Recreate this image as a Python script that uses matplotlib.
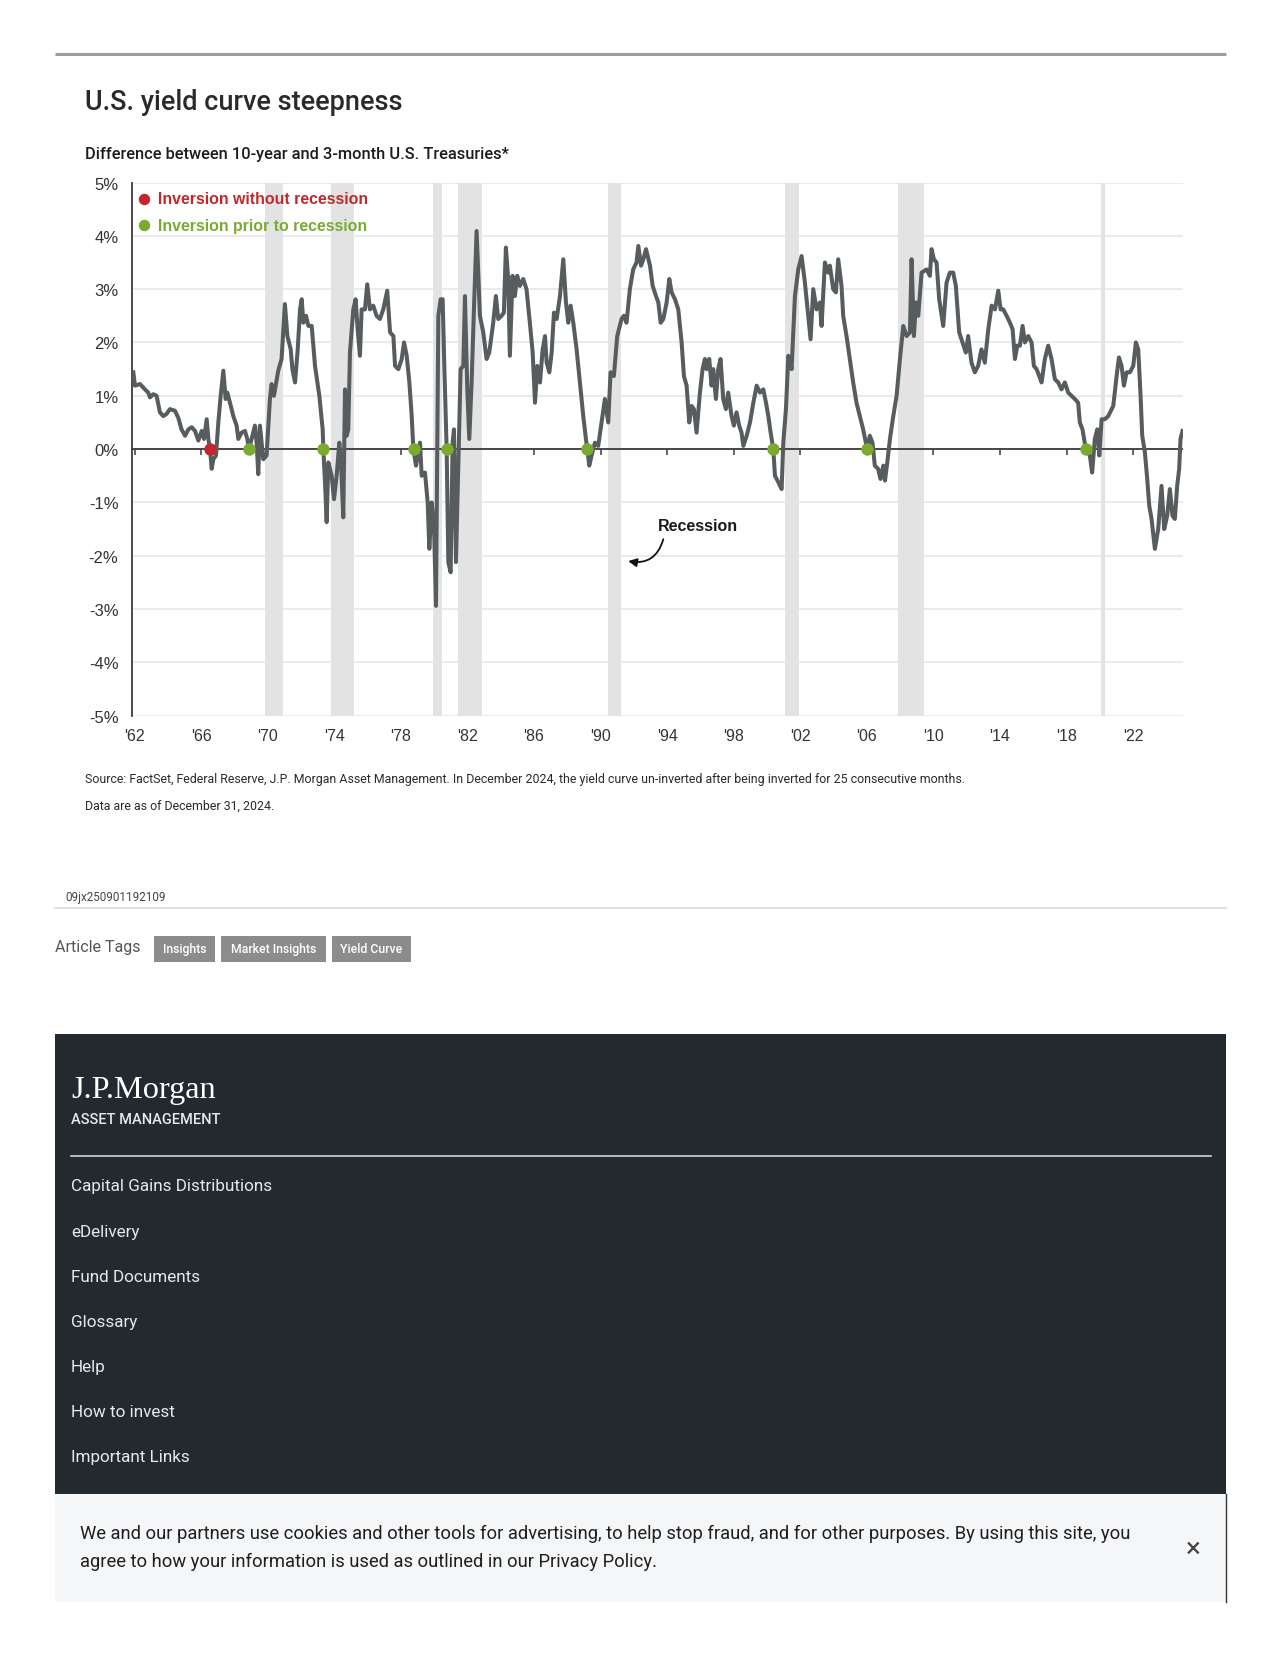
import matplotlib
matplotlib.use('Agg')
import matplotlib.pyplot as plt
from matplotlib.patches import Rectangle

plt.rcParams['font.family'] = ['Liberation Sans', 'DejaVu Sans']

# 10y - 3m spread (decimal year, percent)
spread_dates = [
    1961.92, 1962.02, 1962.32, 1962.62, 1962.82, 1962.92, 1963.12, 1963.32, 1963.52, 1963.72,
    1963.92, 1964.12, 1964.42, 1964.62, 1964.82, 1965.03, 1965.23, 1965.43, 1965.63, 1965.83,
    1966.03, 1966.17, 1966.33, 1966.43, 1966.53, 1966.63, 1966.73, 1966.89, 1967.03, 1967.17,
    1967.33, 1967.47, 1967.57, 1967.73, 1967.93, 1968.13, 1968.23, 1968.43, 1968.63, 1968.77,
    1968.87, 1969.03, 1969.23, 1969.33, 1969.43, 1969.53, 1969.63, 1969.73, 1969.93, 1970.13,
    1970.23, 1970.37, 1970.63, 1970.83, 1971.03, 1971.18, 1971.38, 1971.48, 1971.64, 1971.80,
    1971.94, 1972.04, 1972.14, 1972.30, 1972.44, 1972.64, 1972.84, 1973.10, 1973.30, 1973.34,
    1973.44, 1973.54, 1973.64, 1973.84, 1973.98, 1974.14, 1974.30, 1974.40, 1974.54, 1974.64,
    1974.74, 1974.84, 1974.94, 1975.14, 1975.28, 1975.40, 1975.54, 1975.64, 1975.84, 1975.98,
    1976.14, 1976.34, 1976.54, 1976.74, 1976.94, 1977.18, 1977.35, 1977.55, 1977.65, 1977.85,
    1978.05, 1978.19, 1978.35, 1978.51, 1978.65, 1978.75, 1978.91, 1979.15, 1979.25, 1979.45,
    1979.61, 1979.71, 1979.85, 1979.99, 1980.11, 1980.25, 1980.39, 1980.51, 1980.61, 1980.75,
    1980.85, 1980.99, 1981.11, 1981.19, 1981.31, 1981.45, 1981.59, 1981.75, 1981.85, 1981.99,
    1982.11, 1982.25, 1982.39, 1982.55, 1982.75,
    1982.95, 1983.15, 1983.31, 1983.55, 1983.71, 1983.85, 1984.05, 1984.19, 1984.31, 1984.45,
    1984.55, 1984.71, 1984.85, 1984.99, 1985.15, 1985.35, 1985.55, 1985.75, 1985.92, 1986.06,
    1986.20, 1986.36, 1986.52, 1986.66, 1986.76, 1986.92, 1987.06, 1987.20, 1987.36, 1987.56,
    1987.76, 1987.92, 1988.06, 1988.20, 1988.36, 1988.56, 1988.76, 1988.96, 1989.12, 1989.20,
    1989.32, 1989.46, 1989.66, 1989.86, 1990.06, 1990.26, 1990.46, 1990.60, 1990.80, 1991.00,
    1991.26, 1991.40, 1991.56, 1991.76, 1991.96, 1992.16, 1992.27, 1992.43, 1992.57, 1992.73,
    1992.97, 1993.13, 1993.33, 1993.47, 1993.61, 1993.77, 1993.97, 1994.13, 1994.27, 1994.47,
    1994.67, 1994.87, 1995.01, 1995.17, 1995.33, 1995.47, 1995.61, 1995.77, 1995.97, 1996.13,
    1996.27, 1996.37, 1996.53, 1996.67, 1996.77, 1996.93, 1997.07, 1997.21, 1997.37, 1997.53,
    1997.67, 1997.87, 1998.01, 1998.17, 1998.33, 1998.47, 1998.58, 1998.78, 1998.98, 1999.18,
    1999.38, 1999.58, 1999.78, 1999.94, 2000.08, 2000.22, 2000.38, 2000.48, 2000.68, 2000.88,
    2000.98, 2001.14, 2001.28, 2001.48, 2001.68, 2001.88, 2002.08, 2002.28, 2002.48, 2002.62,
    2002.78, 2002.98, 2003.18, 2003.28, 2003.48, 2003.68,
    2003.78, 2003.98, 2004.14, 2004.28, 2004.48, 2004.58, 2004.78, 2004.98, 2005.18, 2005.38,
    2005.58, 2005.78, 2006.02, 2006.18, 2006.34, 2006.48, 2006.68, 2006.82, 2006.99, 2007.09,
    2007.23, 2007.39, 2007.59, 2007.79, 2007.99, 2008.19, 2008.39, 2008.59, 2008.69, 2008.83,
    2008.95, 2009.09, 2009.29, 2009.59, 2009.79, 2009.89, 2010.03, 2010.19, 2010.35, 2010.59,
    2010.79, 2010.99, 2011.19, 2011.35, 2011.55, 2011.75, 2011.95, 2012.09, 2012.29, 2012.49,
    2012.69, 2012.89, 2013.09, 2013.30, 2013.50, 2013.70, 2013.90, 2014.04, 2014.20, 2014.40,
    2014.60, 2014.76, 2014.90, 2015.04, 2015.20, 2015.36, 2015.50, 2015.70, 2015.90, 2016.04,
    2016.20, 2016.36, 2016.50, 2016.70, 2016.90, 2017.10, 2017.30, 2017.50, 2017.70, 2017.90,
    2018.10, 2018.30, 2018.50, 2018.70, 2018.80, 2018.96, 2019.16, 2019.40, 2019.54, 2019.70,
    2019.85, 2019.97, 2020.11, 2020.31, 2020.51, 2020.81, 2021.01, 2021.15, 2021.31, 2021.45,
    2021.61, 2021.81, 2022.01, 2022.17, 2022.31, 2022.45, 2022.55, 2022.71, 2022.85, 2022.97,
    2023.11, 2023.31, 2023.51, 2023.71, 2023.87, 2024.05, 2024.21, 2024.37, 2024.51, 2024.65,
    2024.77, 2024.85, 2024.97,
]
spread_values = [
    1.44, 1.19, 1.22, 1.12, 1.06, 0.97, 1.03, 1.00, 0.69, 0.62,
    0.66, 0.75, 0.72, 0.59, 0.37, 0.25, 0.37, 0.41, 0.34, 0.16,
    0.34, 0.19, 0.56, 0.19, 0.00, -0.37, -0.19, -0.12, 0.50, 1.00,
    1.47, 0.94, 1.06, 0.87, 0.62, 0.44, 0.19, 0.31, 0.34, 0.19,
    0.00, 0.19, 0.44, 0.12, -0.47, 0.44, 0.12, -0.19, -0.12, 0.94,
    1.22, 1.00, 1.47, 1.69, 2.72, 2.12, 1.87, 1.50, 1.25, 1.87,
    2.62, 2.81, 2.37, 2.50, 2.31, 2.31, 1.56, 1.00, 0.37, 0.00,
    -0.62, -1.37, -0.25, -0.50, -0.94, -0.50, 0.12, -0.25, -1.28, 1.12,
    0.25, 0.37, 1.81, 2.62, 2.81, 2.25, 1.75, 2.62, 2.62, 3.09,
    2.62, 2.69, 2.50, 2.44, 2.62, 2.97, 2.19, 2.12, 1.56, 1.50,
    1.69, 2.00, 1.75, 1.25, 0.62, 0.00, -0.31, 0.12, -0.50, -0.44,
    -1.00, -1.87, -1.00, -1.44, -2.94, 2.50, 2.81, 2.81, 1.56, 0.00,
    -2.12, -2.31, 0.12, 0.37, -2.12, -0.31, 1.50, 1.56, 2.87, 1.12,
    0.19, 1.25, 2.62, 4.09, 2.50,
    2.19, 1.69, 1.81, 2.37, 2.87, 2.44, 2.50, 2.56, 3.78, 3.19,
    1.75, 3.25, 2.87, 3.25, 3.06, 3.19, 3.00, 2.37, 1.81, 0.87,
    1.56, 1.25, 1.87, 2.12, 1.62, 1.44, 1.81, 2.56, 2.44, 2.87,
    3.56, 2.75, 2.37, 2.69, 2.37, 1.87, 1.25, 0.62, 0.19, 0.00,
    -0.31, -0.12, 0.12, 0.06, 0.50, 0.94, 0.50, 1.44, 1.37, 2.12,
    2.44, 2.50, 2.37, 3.00, 3.37, 3.50, 3.81, 3.44, 3.56, 3.75,
    3.44, 3.06, 2.87, 2.75, 2.37, 2.44, 2.75, 3.19, 2.94, 2.81,
    2.62, 2.00, 1.37, 1.19, 0.50, 0.81, 0.75, 0.31, 1.06, 1.50,
    1.69, 1.50, 1.69, 1.19, 1.50, 0.94, 1.50, 1.69, 0.94, 0.75,
    1.06, 0.62, 0.44, 0.69, 0.44, 0.31, 0.06, 0.25, 0.50, 0.87,
    1.19, 1.06, 1.12, 0.87, 0.62, 0.31, 0.00, -0.50, -0.62, -0.75,
    0.12, 0.75, 1.75, 1.50, 2.87, 3.37, 3.62, 3.12, 2.50, 2.06,
    3.00, 2.62, 2.75, 2.31, 3.50, 3.31,
    3.44, 3.00, 2.94, 3.56, 3.06, 2.50, 2.12, 1.69, 1.25, 0.87,
    0.62, 0.37, 0.00, 0.25, 0.12, -0.31, -0.37, -0.56, -0.31, -0.59,
    -0.25, 0.19, 0.62, 1.00, 1.69, 2.31, 2.12, 2.19, 3.56, 2.12,
    2.75, 2.50, 3.31, 3.37, 3.25, 3.75, 3.56, 3.50, 2.81, 2.31,
    3.12, 3.31, 3.31, 3.06, 2.19, 2.00, 1.81, 2.12, 1.62, 1.44,
    1.56, 1.87, 1.62, 2.25, 2.69, 2.62, 2.97, 2.62, 2.62, 2.50,
    2.37, 2.25, 1.69, 1.94, 1.94, 2.31, 2.00, 2.12, 2.00, 1.56,
    1.50, 1.37, 1.25, 1.69, 1.94, 1.69, 1.31, 1.25, 1.12, 1.25,
    1.06, 1.00, 0.94, 0.87, 0.50, 0.37, 0.00, -0.12, -0.44, 0.19,
    0.37, -0.12, 0.56, 0.56, 0.62, 0.81, 1.37, 1.72, 1.56, 1.19,
    1.44, 1.44, 1.56, 2.00, 1.87, 1.00, 0.25, -0.06, -0.56, -1.06,
    -1.31, -1.87, -1.50, -0.69, -1.50, -1.25, -0.75, -1.25, -1.31, -0.69,
    -0.37, 0.19, 0.34,
]

recessions = [(1969.85, 1970.9), (1973.8, 1975.2), (1979.95, 1980.5), (1981.45, 1982.9),
              (1990.45, 1991.2), (2001.1, 2001.9), (2007.85, 2009.45), (2020.1, 2020.3)]

inversion_no_recession = [1966.53]
inversion_pre_recession = [1968.87, 1973.3, 1978.77, 1980.77, 1989.2, 2000.38, 2006.02, 2019.16]

tick_years = [1962, 1966, 1970, 1974, 1978, 1982, 1986, 1990, 1994, 1998, 2002, 2006, 2010, 2014, 2018, 2022]
tick_labels = ["'62", "'66", "'70", "'74", "'78", "'82", "'86", "'90", "'94", "'98",
               "'02", "'06", "'10", "'14", "'18", "'22"]
pct_ticks = [-5, -4, -3, -2, -1, 0, 1, 2, 3, 4, 5]

footer_links = ['Capital Gains Distributions', 'eDelivery', 'Fund Documents', 'Glossary',
                'Help', 'How to invest', 'Important Links']
article_tags = ['Insights', 'Market Insights', 'Yield Curve']

RED = '#c1272d'
GREEN = '#7aab2e'
LINE = '#575c5f'
AXIS = '#3a3a3a'

fig = plt.figure(figsize=(12.8, 16.56), dpi=100)

# page canvas in pixel units
page = fig.add_axes([0, 0, 1, 1])
page.set_xlim(0, 1280)
page.set_ylim(1656, 0)
page.axis('off')

page.plot([55, 1226], [55, 55], color='#9c9c9c', lw=2.2, solid_capstyle='butt')
page.text(85, 103, 'U.S. yield curve steepness', fontsize=19.5, family='Roboto',
          weight='medium', color='#2a2a2a', va='center')
page.text(85, 155, 'Difference between 10-year and 3-month U.S. Treasuries*', fontsize=11.8,
          family='Roboto', weight='medium', color='#1c1c1c', va='center')

# chart
ax = fig.add_axes([132.3 / 1280, 1 - 716.7 / 1656, (1183 - 132.3) / 1280, (716.7 - 183.5) / 1656])
for start, end in recessions:
    ax.axvspan(start, end, color='#e3e3e3', lw=0, zorder=1)
ax.set_axisbelow(True)
ax.grid(axis='y', color='#e6e6e6', lw=1.1)
ax.axhline(0, color=AXIS, lw=1.3, zorder=2.5)
ax.plot(spread_dates, spread_values, color=LINE, lw=2.9, zorder=3, solid_joinstyle='round')
ax.scatter(inversion_no_recession, [0] * len(inversion_no_recession), s=80, color=RED,
           linewidths=0, zorder=5, label='Inversion without recession')
ax.scatter(inversion_pre_recession, [0] * len(inversion_pre_recession), s=80, color=GREEN,
           linewidths=0, zorder=5, label='Inversion prior to recession')

ax.set_xlim(1961.86, 2025.0)
ax.set_ylim(-5, 5)
ax.set_xticks(tick_years)
ax.set_xticklabels(tick_labels)
ax.set_yticks(pct_ticks)
ax.set_yticklabels([f'{v}%' for v in pct_ticks])
ax.tick_params(axis='both', length=0, colors='#333333')
ax.tick_params(axis='x', labelsize=11.5, pad=8.5)
ax.tick_params(axis='y', labelsize=12, pad=10)
for side in ['top', 'right', 'bottom']:
    ax.spines[side].set_visible(False)
ax.spines['left'].set_color(AXIS)
ax.spines['left'].set_linewidth(1.3)

# small ticks hanging off the zero line
zero_axis = ax.secondary_xaxis(0.4999)
zero_axis.set_xticks(tick_years)
zero_axis.tick_params(axis='x', direction='out', length=4, width=1.1, color=AXIS,
                      labelbottom=False, labeltop=False)
for s in zero_axis.spines.values():
    s.set_visible(False)

leg = ax.legend(loc='upper left', bbox_to_anchor=(-0.0035, 1.0), frameon=False,
                prop={'family': 'Liberation Sans', 'weight': 'bold', 'size': 11.4},
                handlelength=0.9, handletextpad=0.42, labelspacing=0.72,
                borderaxespad=0.0, borderpad=0.55, scatterpoints=1, markerscale=0.92)
for txt, c in zip(leg.get_texts(), [RED, GREEN]):
    txt.set_color(c)

ax.annotate('', xy=(1991.66, -2.10), xytext=(1993.77, -1.69),
            arrowprops=dict(arrowstyle='-|>,head_length=0.5,head_width=0.25',
                            connectionstyle='arc3,rad=-0.45', color='#111111', lw=1.3,
                            shrinkA=0, shrinkB=0))
ax.text(1995.87, -1.43, 'Recession', ha='center', va='center', weight='bold',
        fontsize=11.5, color='#1a1a1a')

# notes
page.text(85, 780, 'Source: FactSet, Federal Reserve, J.P. Morgan Asset Management. In December 2024, '
          'the yield curve un-inverted after being inverted for 25 consecutive months.',
          fontsize=8.93, family='Roboto', color='#2a2a2a', va='center')
page.text(85, 806.5, 'Data are as of December 31, 2024.', fontsize=8.93, family='Roboto',
          color='#2a2a2a', va='center')
page.text(65, 898, '09jx250901192109', fontsize=8.4, family='Roboto', color='#444444', va='center')
page.plot([55, 1226], [908.5, 908.5], color='#e2e2e2', lw=1.5)

page.text(55, 948, 'Article Tags', fontsize=11.5, family='Roboto', color='#555555', va='center')
tag_left = [154, 221, 332]
tag_right = [214.5, 326, 411]
for label, x0, x1 in zip(article_tags, tag_left, tag_right):
    page.add_patch(Rectangle((x0, 937), x1 - x0, 26, color='#8c8c8c', lw=0))
    page.text((x0 + x1) / 2, 950, label, fontsize=8.8, family='Roboto', weight='medium',
              color='white', ha='center', va='center')

# footer
page.add_patch(Rectangle((55, 1035), 1171, 460, color='#222a30', lw=0))
page.text(71, 1098, 'J.P.Morgan', fontsize=23.2, family='Liberation Serif', color='white',
          va='baseline')
page.text(71, 1124, 'ASSET MANAGEMENT', fontsize=10.5, family='Roboto', weight='medium',
          color='#e8e8e8', va='baseline')
page.plot([71, 1211], [1156.5, 1156.5], color='#cfd3d6', lw=1.2)
for i, link in enumerate(footer_links):
    page.text(71, 1187 + i * 45.07, link, fontsize=12.3, family='Roboto', color='#e6e8ea',
              va='center')

# cookie banner
page.add_patch(Rectangle((55, 1495), 1171, 108, color='#f5f6f8', lw=0))
page.plot([1225.5, 1225.5], [1495, 1603], color='#333333', lw=1)
page.text(80, 1534, 'We and our partners use cookies and other tools for advertising, to help stop '
          'fraud, and for other purposes. By using this site, you', fontsize=13.23, family='Roboto',
          color='#1e1e1e', va='center')
page.text(80, 1562, 'agree to how your information is used as outlined in our Privacy Policy.',
          fontsize=13.23, family='Roboto', color='#1e1e1e', va='center')
page.text(1193, 1549, '\u00d7', fontsize=20, family='Roboto', color='#444444', ha='center',
          va='center')

fig.savefig('out.png', dpi=100)
